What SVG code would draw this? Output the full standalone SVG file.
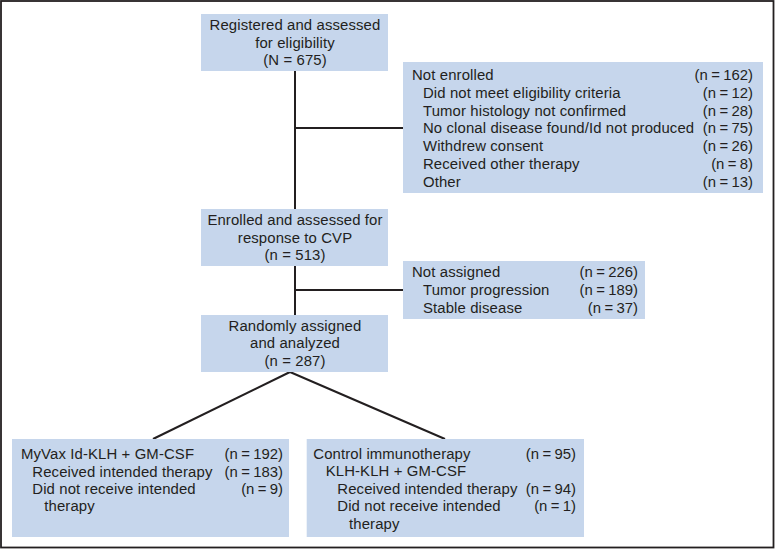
<svg xmlns="http://www.w3.org/2000/svg" width="775" height="549" viewBox="0 0 775 549">
<style>
.box{fill:#c6d6ec;}
.ln{stroke:#231f20;stroke-width:2;fill:none;}
text{font-family:"Liberation Sans",Arial,sans-serif;font-size:14.9px;letter-spacing:0.12px;fill:#231f20;}
.c{text-anchor:middle;}
.e{text-anchor:end;letter-spacing:0;word-spacing:-0.8px;}
</style>
<rect x="1" y="1" width="772.5" height="546.5" fill="#fff" stroke="#231f20" stroke-width="1.8"/>
<g id="connectors">
<line class="ln" x1="295" y1="71" x2="295" y2="209"/>
<line class="ln" x1="295" y1="128" x2="403" y2="128"/>
<line class="ln" x1="295" y1="266" x2="295" y2="315"/>
<line class="ln" x1="295" y1="290" x2="403" y2="290"/>
<line class="ln" x1="290" y1="372" x2="153" y2="439"/>
<line class="ln" x1="290" y1="372" x2="445" y2="439"/>
</g>
<g id="registered">
<rect class="box" x="201" y="14" width="187" height="57"/>
<text class="c" x="295" y="30">Registered and assessed</text>
<text class="c" x="295" y="47.6">for eligibility</text>
<text class="c" x="295" y="65">(N = 675)</text>
</g>
<g id="not-enrolled">
<rect class="box" x="403" y="62" width="360" height="131"/>
<text x="412" y="80">Not enrolled</text><text class="e" x="753" y="80">(n = 162)</text>
<text x="423" y="97.7">Did not meet eligibility criteria</text><text class="e" x="753" y="97.7">(n = 12)</text>
<text x="423" y="115.5">Tumor histology not confirmed</text><text class="e" x="753" y="115.5">(n = 28)</text>
<text x="423" y="133.3">No clonal disease found/Id not produced</text><text class="e" x="753" y="133.3">(n = 75)</text>
<text x="423" y="151">Withdrew consent</text><text class="e" x="753" y="151">(n = 26)</text>
<text x="423" y="169">Received other therapy</text><text class="e" x="753" y="169">(n = 8)</text>
<text x="423" y="186.7">Other</text><text class="e" x="753" y="186.7">(n = 13)</text>
</g>
<g id="enrolled">
<rect class="box" x="201" y="209" width="187" height="57"/>
<text class="c" x="295" y="225">Enrolled and assessed for</text>
<text class="c" x="295" y="242.7">response to CVP</text>
<text class="c" x="295" y="260">(n = 513)</text>
</g>
<g id="not-assigned">
<rect class="box" x="403" y="261" width="242" height="58"/>
<text x="412" y="277">Not assigned</text><text class="e" x="638" y="277">(n = 226)</text>
<text x="423" y="295">Tumor progression</text><text class="e" x="638" y="295">(n = 189)</text>
<text x="423" y="312.7">Stable disease</text><text class="e" x="638" y="312.7">(n = 37)</text>
</g>
<g id="randomized">
<rect class="box" x="201" y="315" width="187" height="57"/>
<text class="c" x="295" y="331">Randomly assigned</text>
<text class="c" x="295" y="348">and analyzed</text>
<text class="c" x="295" y="366">(n = 287)</text>
</g>
<g id="myvax">
<rect class="box" x="12" y="439" width="277" height="98"/>
<text x="21" y="459">MyVax Id-KLH + GM-CSF</text><text class="e" x="283" y="459">(n = 192)</text>
<text x="32.3" y="476.7">Received intended therapy</text><text class="e" x="283" y="476.7">(n = 183)</text>
<text x="32.3" y="494">Did not receive intended</text><text class="e" x="283" y="494">(n = 9)</text>
<text x="44.3" y="511.3">therapy</text>
</g>
<g id="control">
<rect class="box" x="306.7" y="439" width="277.3" height="98"/>
<text x="313.3" y="459">Control immunotherapy</text><text class="e" x="576" y="459">(n = 95)</text>
<text x="325.7" y="476.3">KLH-KLH + GM-CSF</text>
<text x="337.3" y="494">Received intended therapy</text><text class="e" x="576" y="494">(n = 94)</text>
<text x="337.3" y="511.3">Did not receive intended</text><text class="e" x="576" y="511.3">(n = 1)</text>
<text x="349" y="529">therapy</text>
</g>
</svg>
